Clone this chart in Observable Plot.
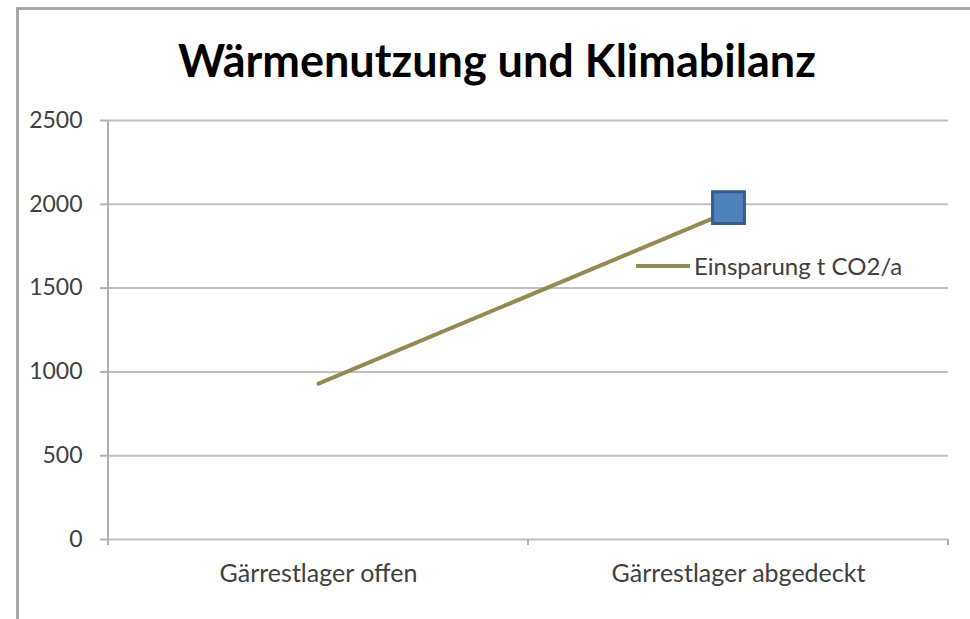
<!DOCTYPE html>
<html>
<head>
<meta charset="utf-8">
<script src="https://cdn.jsdelivr.net/npm/d3@7"></script>
<script src="https://cdn.jsdelivr.net/npm/@observablehq/plot@0.6"></script>
<style>
  html, body { margin: 0; padding: 0; background: #fff; }
  #wrap { position: relative; width: 970px; height: 619px; overflow: hidden; font-family: Lato, "Open Sans", sans-serif; }
  #frame { position: absolute; left: 16px; top: 7px; width: 960px; height: 640px; border-top: 3px solid #a9a9a9; border-left: 3px solid #a9a9a9; }
  #title { position: absolute; left: 17px; width: 960px; top: 33px; line-height: 54px; text-align: center; font-size: 45px; font-weight: 700; color: #000; }
  #legend { position: absolute; left: 636px; top: 251px; display: flex; align-items: center; font-size: 24px; color: #404040; }
  #legend .swatch { width: 54px; height: 4px; background: #948a54; margin-right: 4px; }
  #chart { position: absolute; left: 0; top: 0; }
</style>
</head>
<body>
<div id="wrap">
  <div id="frame"></div>
  <div id="chart"></div>
  <div id="title">Wärmenutzung und Klimabilanz</div>
  <div id="legend"><div class="swatch"></div><span>Einsparung t CO2/a</span></div>
</div>
<script>
const categories = ["Gärrestlager offen", "Gärrestlager abgedeckt"];
const values = [930, 1980];
const yTicks = [0, 500, 1000, 1500, 2000, 2500];
const seriesName = "Einsparung t CO2/a";

const data = categories.map((c, i) => ({category: c, value: values[i]}));

const plot = Plot.plot({
  width: 970,
  height: 619,
  marginLeft: 108,
  marginRight: 22,
  marginTop: 120,
  marginBottom: 80,
  style: {fontFamily: "Lato, 'Open Sans', sans-serif", background: "transparent", color: "#404040"},
  x: {type: "point", domain: categories, padding: 0.5, axis: null},
  y: {domain: [0, 2500], axis: null},
  marks: [
    Plot.ruleY(yTicks, {stroke: "#c0c0c0", strokeWidth: 2}),
    Plot.axisY({ticks: yTicks, tickSize: 8, tickPadding: 18, stroke: "#b0b0b0", strokeWidth: 2, fill: "#404040", fontSize: 23, label: null, tickFormat: d => String(d)}),
    Plot.axisX({tickSize: 0, tickPadding: 25, fill: "#404040", fontSize: 25, label: null}),
    Plot.line(data, {x: "category", y: "value", stroke: "#948a54", strokeWidth: 4}),
    Plot.dot(data.slice(-1), {x: "category", y: "value", symbol: "square", r: 18, fill: "#4f81bd", stroke: "#385d8a", strokeWidth: 3, dx: -10})
  ]
});
document.getElementById("chart").appendChild(plot);

// axis line and category boundary ticks, computed from the scales
const xs = plot.scale("x"), ys = plot.scale("y");
const p = categories.map(c => xs.apply(c));
const step = p[1] - p[0];
const bounds = [p[0] - step / 2, ...p.map(v => v + step / 2)];
const y0 = ys.apply(0), yTop = ys.apply(2500);
const svg = d3.select(plot);
const g = svg.append("g").attr("stroke", "#b0b0b0").attr("stroke-width", 2);
g.append("line").attr("x1", bounds[0]).attr("x2", bounds[0]).attr("y1", yTop).attr("y2", y0 + 6);
bounds.forEach(b => g.append("line").attr("x1", b).attr("x2", b).attr("y1", y0).attr("y2", y0 + 6));
// keep data marks above the added axis line
svg.selectAll("g[aria-label='line'], g[aria-label='dot']").raise();
</script>
</body>
</html>
